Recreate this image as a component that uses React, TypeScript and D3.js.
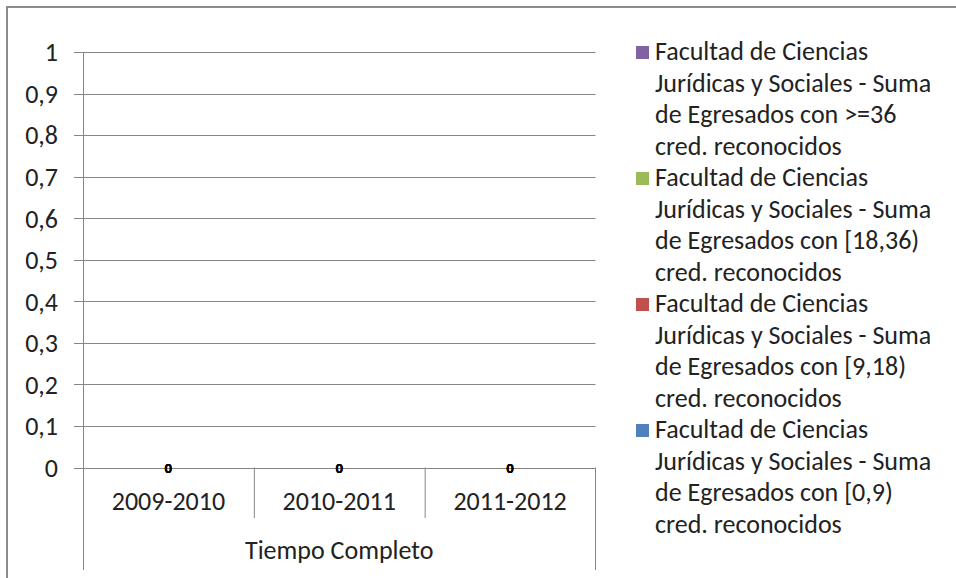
import React from "react";
import * as d3 from "d3";

const categories = ["2009-2010", "2010-2011", "2011-2012"];
const groupLabel = "Tiempo Completo";
const seriesNames = [
  "Facultad de Ciencias Jurídicas y Sociales - Suma de Egresados con [0,9) cred. reconocidos",
  "Facultad de Ciencias Jurídicas y Sociales - Suma de Egresados con [9,18) cred. reconocidos",
  "Facultad de Ciencias Jurídicas y Sociales - Suma de Egresados con [18,36) cred. reconocidos",
  "Facultad de Ciencias Jurídicas y Sociales - Suma de Egresados con >=36 cred. reconocidos",
];
const legendLines = [
  ["Facultad de Ciencias", "Jurídicas y Sociales - Suma", "de Egresados con [0,9)", "cred. reconocidos"],
  ["Facultad de Ciencias", "Jurídicas y Sociales - Suma", "de Egresados con [9,18)", "cred. reconocidos"],
  ["Facultad de Ciencias", "Jurídicas y Sociales - Suma", "de Egresados con [18,36)", "cred. reconocidos"],
  ["Facultad de Ciencias", "Jurídicas y Sociales - Suma", "de Egresados con >=36", "cred. reconocidos"],
];
const seriesColors = ["#4F81BD", "#C0504D", "#9BBB59", "#8064A2"];
const values0to9 = [0, 0, 0];
const values9to18 = [0, 0, 0];
const values18to36 = [0, 0, 0];
const values36plus = [0, 0, 0];
const seriesValues = [values0to9, values9to18, values18to36, values36plus];
const yTicks = [0, 0.1, 0.2, 0.3, 0.4, 0.5, 0.6, 0.7, 0.8, 0.9, 1];

const W = 956;
const H = 578;
const FONT = "Carlito, Calibri, 'Liberation Sans', Arial, sans-serif";

export default function App() {
  const left = 83;
  const right = 595.5;
  const top = 52;
  const bottom = 467.5;
  const x = d3.scaleBand<string>().domain(categories).range([left, right]).paddingInner(0).paddingOuter(0);
  const y = d3.scaleLinear().domain([0, 1]).range([bottom, top]);
  const bw = x.bandwidth() * 0.5;

  const rows = categories.map((c, i) => {
    const obj: any = { cat: c };
    seriesValues.forEach((s, k) => (obj["s" + k] = s[i]));
    return obj;
  });
  const stack = d3.stack().keys(seriesValues.map((_, k) => "s" + k))(rows);

  const fmt = (v: number) => (v === 0 ? "0" : v === 1 ? "1" : d3.format(".1f")(v).replace(".", ","));
  const grid = "#868686";
  const lineH = 31.5;
  const entryH = lineH * 4;
  const legendX = 655;
  const legendTop = 60;
  const fs = 26;

  return (
    <svg
      width={W}
      height={H}
      style={{ position: "absolute", left: 0, top: 0, background: "#fff" }}
      fontFamily={FONT}
    >
      <rect x={0} y={0} width={W} height={H} fill="#fff" />
      {/* outer frame */}
      <path d={`M7,${H} L7,7 L${W},7`} fill="none" stroke="#8c8c8c" strokeWidth={2} />

      {/* gridlines */}
      {yTicks.map((t) => (
        <line key={t} x1={74} x2={right} y1={Math.round(y(t)) + 0.5} y2={Math.round(y(t)) + 0.5} stroke={grid} strokeWidth={1} />
      ))}
      {yTicks.map((t) => (
        <text key={"l" + t} x={58} y={y(t)} dy="0.36em" textAnchor="end" fontSize={fs} fill="#222">
          {fmt(t)}
        </text>
      ))}

      {/* y axis & outer vertical lines */}
      <line x1={left + 0.5} x2={left + 0.5} y1={top} y2={570} stroke={grid} />
      <line x1={right} x2={right} y1={bottom} y2={570} stroke={grid} />
      {categories.slice(1).map((c) => (
        <line key={c} x1={(x(c) as number) + 0.5} x2={(x(c) as number) + 0.5} y1={bottom} y2={518} stroke={grid} />
      ))}

      {/* bars (zero height) */}
      {stack.map((layer, k) =>
        layer.map((d, i) => (
          <rect
            key={k + "-" + i}
            x={(x(categories[i]) as number) + (x.bandwidth() - bw) / 2}
            width={bw}
            y={y(d[1])}
            height={Math.max(0, y(d[0]) - y(d[1]))}
            fill={seriesColors[k]}
          />
        ))
      )}

      {/* data labels */}
      {stack.map((layer, k) =>
        layer.map((d, i) => (
          <text
            key={"dl" + k + "-" + i}
            x={(x(categories[i]) as number) + x.bandwidth() / 2}
            y={(y(d[0]) + y(d[1])) / 2}
            dy="0.36em"
            textAnchor="middle"
            fontSize={14}
            fontWeight="bold"
            fill="#000"
          >
            {d[1] - d[0]}
          </text>
        ))
      )}

      {/* category labels */}
      {categories.map((c) => (
        <text key={"c" + c} x={(x(c) as number) + x.bandwidth() / 2} y={510} textAnchor="middle" fontSize={fs} fill="#222">
          {c}
        </text>
      ))}
      <text x={(left + right) / 2} y={559} textAnchor="middle" fontSize={fs} fill="#222">
        {groupLabel}
      </text>

      {/* legend (reverse order) */}
      {seriesNames
        .map((n, k) => k)
        .reverse()
        .map((k, idx) => {
          const base = legendTop + idx * entryH;
          return (
            <g key={"lg" + k}>
              <title>{seriesNames[k]}</title>
              <rect x={636} y={base - 14} width={13} height={13} fill={seriesColors[k]} />
              {legendLines[k].map((ln, j) => (
                <text key={j} x={legendX} y={base + j * lineH} fontSize={fs} fill="#222">
                  {ln}
                </text>
              ))}
            </g>
          );
        })}
    </svg>
  );
}
